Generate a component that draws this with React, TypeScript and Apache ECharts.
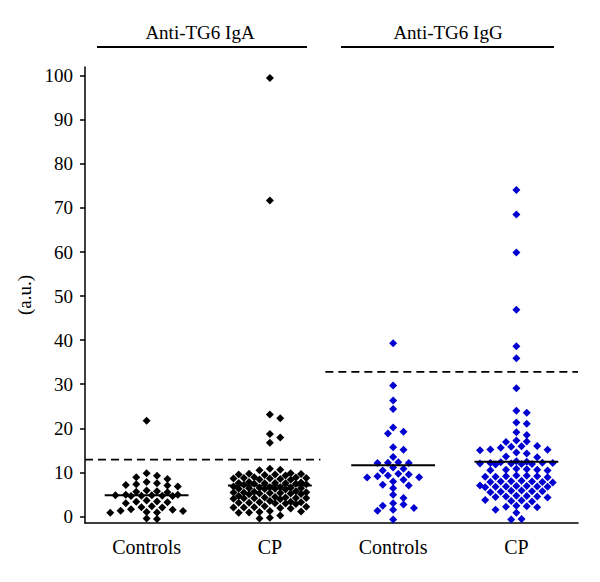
import React, { useEffect, useRef } from "react";
import * as echarts from "echarts";

// ---- data ----
const categories = ["Controls", "CP", "Controls", "CP"];
const panelTitles = ["Anti-TG6 IgA", "Anti-TG6 IgG"];
const yTicks = [0, 10, 20, 30, 40, 50, 60, 70, 80, 90, 100];

const igaControls = [
  21.7, 9.8, 9.2, 8.9, 8.5, 7.8, 7.5, 7.3, 7.1, 7.0, 6.8, 5.9, 5.7, 5.6, 5.5,
  4.9, 4.9, 4.8, 4.8, 4.7, 4.7, 4.6, 4.6, 3.6, 3.4, 3.3, 3.2, 3.0, 2.3, 2.1,
  2.0, 1.6, 1.5, 1.3, 1.2, 1.0, 0.9, 0.8, -0.5, -0.6,
];

const igaCP = [
  99.5, 71.7, 23.1, 22.3, 18.7, 17.9, 16.7, 10.8, 10.6, 10.5,
  9.8, 9.6, 9.5, 9.4, 9.7, 9.3, 9.5,
  8.9, 8.7, 8.6, 8.5, 8.8, 8.4, 8.6, 8.3, 8.7,
  7.8, 7.6, 7.5, 7.4, 7.7, 7.3, 7.5, 7.2, 7.6, 7.4,
  6.8, 6.6, 6.4, 6.3, 6.5, 6.2, 6.4, 6.1, 6.6, 6.3, 6.5,
  5.7, 5.4, 5.3, 5.2, 5.5, 5.1, 5.3, 5.0, 5.4, 5.2, 5.6,
  4.6, 4.3, 4.2, 4.1, 4.4, 4.0, 4.2, 3.9, 4.3, 4.1,
  3.5, 3.2, 3.1, 3.0, 3.3, 2.9, 3.1, 2.8, 3.2,
  2.3, 2.1, 2.0, 1.9, 2.2, 1.8, 2.0,
  1.2, 1.0, 0.9, 1.1, 0.8,
  0.2, -0.3, -0.5,
];

const iggControls = [
  39.3, 29.7, 26.3, 24.4, 20.2, 19.2, 18.8, 15.7, 15.1, 13.5, 12.3, 12.2,
  12.1, 12.1, 11.1, 10.8, 10.4, 9.7, 9.5, 9.3, 9.1, 8.9, 8.8, 8.3, 7.9, 7.2,
  7.0, 6.4, 4.9, 4.2, 3.0, 2.7, 2.4, 1.9, 1.5, 1.3, -0.7,
];

const iggCP = [
  74.1, 68.5, 59.9, 46.9, 38.6, 35.9, 29.1, 24.0, 23.5, 21.3, 21.0, 19.1, 18.5,
  17.2, 16.9, 17.0, 16.0, 15.9, 15.8, 15.6, 15.2, 15.0, 15.1, 14.5, 14.3,
  13.6, 13.4,
  12.5, 12.3, 12.2, 12.1, 12.0, 12.0, 11.9, 11.8, 11.9, 12.1, 12.4,
  10.8, 10.6, 10.5, 10.7, 10.4, 10.6,
  9.3, 9.1, 9.0, 9.2, 8.9, 9.1, 9.0,
  8.0, 7.9, 7.8, 8.1, 7.7, 7.9, 7.8,
  6.9, 6.8, 6.7, 7.0, 6.6, 6.8, 6.9, 6.7,
  5.8, 5.6, 5.7, 5.9, 5.5, 5.7,
  4.6, 4.4, 4.5, 4.7, 4.3, 4.5,
  3.7, 3.5, 3.6, 3.4,
  2.4, 2.2, 2.3, 2.1, 1.5,
  0.8, -0.7, -0.6,
];

const groupLines = [4.8, 7.0, 11.6, 12.4];
const cutoffs = [12.9, 32.8];

// ---- layout ----
const GRID = { left: 85, right: 22, top: 67, bottom: 59 };
const W = 600;
const H = 582;
const Y_MIN = -1.5;
const Y_MAX = 102;
const PX_Y = (H - GRID.top - GRID.bottom) / (Y_MAX - Y_MIN);
const PX_X = (W - GRID.left - GRID.right) / categories.length;

// deterministic beeswarm placement (no randomness)
function swarm(values: number[], center: number): number[][] {
  const sorted = [...values].sort((a, b) => b - a);
  const placed: { x: number; y: number }[] = [];
  const step = 5.2;
  const maxOff = 40;
  const cands: number[] = [0];
  for (let k = 1; k * step <= maxOff; k++) cands.push(k * step, -k * step);
  for (const v of sorted) {
    const y = v * PX_Y;
    let best = 0;
    let bestScore = -Infinity;
    for (const c of cands) {
      let minD = Infinity;
      for (const p of placed) {
        const d = ((c - p.x) / 7.5) ** 2 + ((y - p.y) / 6.5) ** 2;
        if (d < minD) minD = d;
      }
      if (minD >= 1) {
        best = c;
        break;
      }
      if (minD > bestScore) {
        bestScore = minD;
        best = c;
      }
    }
    placed.push({ x: best, y });
  }
  return placed.map((p) => [center + p.x / PX_X, p.y / PX_Y]);
}

const FONT = "Liberation Serif, DejaVu Serif, serif";
const BLACK = "#000000";
const BLUE = "#0000d0";

export default function App() {
  const ref = useRef<HTMLDivElement>(null);
  useEffect(() => {
    if (!ref.current) return;
    document.body.style.margin = "0";
    const chart = echarts.init(ref.current, null, { renderer: "svg" });
    const groups = [igaControls, igaCP, iggControls, iggCP];
    const colors = [BLACK, BLACK, BLUE, BLUE];
    const half = 0.34;

    const scatterSeries = groups.map((vals, i) => ({
      type: "scatter",
      xAxisIndex: 1,
      yAxisIndex: 0,
      symbol: "diamond",
      symbolSize: 8,
      itemStyle: { color: colors[i], opacity: 1 },
      data: swarm(vals, i),
      z: 3,
    }));

    const lineSeries = groupLines.map((m, i) => ({
      type: "line",
      xAxisIndex: 1,
      yAxisIndex: 0,
      symbol: "none",
      lineStyle: { color: BLACK, width: 2 },
      data: [
        [i - half, m],
        [i + half, m],
      ],
      z: 4,
    }));

    const cutoffSeries = [
      { v: cutoffs[0], from: -0.5, to: 1.41 },
      { v: cutoffs[1], from: 1.45, to: 3.5 },
    ].map((c) => ({
      type: "line",
      xAxisIndex: 1,
      yAxisIndex: 0,
      symbol: "none",
      lineStyle: { color: BLACK, width: 1.8, type: [8, 5] },
      data: [
        [c.from, c.v],
        [c.to, c.v],
      ],
      z: 2,
    }));

    chart.setOption({
      animation: false,
      backgroundColor: "#ffffff",
      textStyle: { fontFamily: FONT },
      grid: { ...GRID },
      xAxis: [
        {
          type: "category",
          data: categories,
          boundaryGap: true,
          position: "bottom",
          axisLine: { onZero: false, lineStyle: { color: BLACK, width: 1.5 } },
          axisTick: { alignWithLabel: true, length: 7, lineStyle: { color: BLACK, width: 1.5 } },
          axisLabel: { color: BLACK, fontSize: 20, fontFamily: FONT, margin: 14 },
          splitLine: { show: false },
        },
        {
          type: "value",
          min: -0.5,
          max: 3.5,
          show: false,
        },
      ],
      yAxis: {
        type: "value",
        min: Y_MIN,
        max: Y_MAX,
        name: "(a.u.)",
        nameLocation: "middle",
        nameGap: 35,
        nameTextStyle: { color: BLACK, fontSize: 19, fontFamily: FONT },
        axisLine: { show: true, onZero: false, lineStyle: { color: BLACK, width: 1.5 } },
        axisTick: { show: true, length: 5, customValues: yTicks, lineStyle: { color: BLACK, width: 1.5 } },
        axisLabel: { color: BLACK, fontSize: 19, fontFamily: FONT, margin: 12, customValues: yTicks },
        splitLine: { show: false },
      },
      graphic: [
        {
          type: "text",
          x: 200,
          y: 32,
          style: { text: panelTitles[0], fill: BLACK, fontSize: 19, fontFamily: FONT, textAlign: "center", textVerticalAlign: "middle" },
        },
        {
          type: "text",
          x: 448,
          y: 32,
          style: { text: panelTitles[1], fill: BLACK, fontSize: 19, fontFamily: FONT, textAlign: "center", textVerticalAlign: "middle" },
        },
        { type: "line", shape: { x1: 97, y1: 47, x2: 307, y2: 47 }, style: { stroke: BLACK, lineWidth: 1.8 } },
        { type: "line", shape: { x1: 341, y1: 47, x2: 554, y2: 47 }, style: { stroke: BLACK, lineWidth: 1.8 } },
      ],
      series: [...cutoffSeries, ...scatterSeries, ...lineSeries],
    });
    return () => chart.dispose();
  }, []);
  return <div ref={ref} style={{ width: 600, height: 582 }} />;
}
